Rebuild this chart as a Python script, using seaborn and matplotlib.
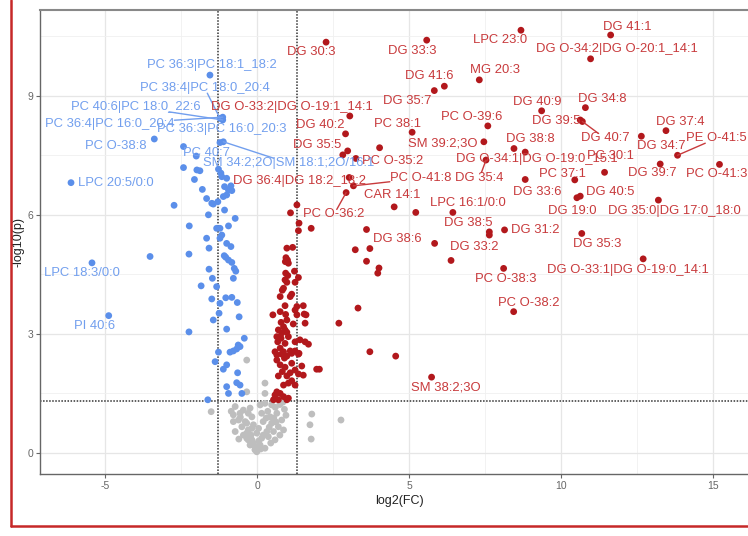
import numpy as np
import pandas as pd
import matplotlib
matplotlib.use("Agg")
import matplotlib.pyplot as plt
from matplotlib.lines import Line2D
from matplotlib.ticker import MultipleLocator
import seaborn as sns

# ---------------- data ----------------
# non-significant (grey)
gray_x = [-0.34, 0.26, 0.26, -0.34, -1.51, 1.80, 1.74, 1.78, 2.76,
          -0.72, -0.45, -0.23, 0.10, 0.26, 0.48,
          -0.78, -0.61, -0.39, -0.17, 0.15, 0.43, 0.65, 0.81,
          -0.78, -0.50, -0.12, 0.20, 0.48, 0.70,
          -0.72, -0.29, -0.01, 0.32, 0.54, 0.87,
          -0.34, -0.17, 0.15, 0.37, 0.59,
          -0.23, -0.07, 0.10, 0.26, -0.07, -0.01,
          -0.56, -0.29, -0.34, -0.17, -0.34, -0.29, -0.12,
          0.60, 0.75, 0.90, 0.35, 0.55, 0.95, 0.40, 0.75, 0.20, 0.05, 0.45,
          -0.45, -0.55, -0.85, 0.05, -0.60, 0.30, 0.62, -0.20, 0.12, 0.85]
gray_y = [2.34, 1.76, 1.50, 1.54, 1.04, 0.98, 0.71, 0.35, 0.83,
          1.17, 1.08, 1.13, 1.21, 1.25, 1.21,
          0.96, 0.83, 0.79, 0.91, 1.00, 0.91, 1.00, 0.83,
          0.79, 0.66, 0.71, 0.79, 0.75, 0.66,
          0.54, 0.58, 0.50, 0.54, 0.54, 0.58,
          0.37, 0.33, 0.37, 0.41, 0.33,
          0.20, 0.16, 0.20, 0.12, 0.08, 0.03,
          1.00, 1.00, 0.75, 0.62, 0.50, 0.33, 0.24,
          1.15, 1.22, 1.10, 1.05, 0.88, 0.95, 0.65, 0.45, 0.45, 0.30, 0.25,
          0.45, 0.90, 1.05, 0.62, 0.35, 0.88, 0.78, 0.45, 0.10, 1.28]

# down-regulated (blue), unlabeled
blue_x = [-2.42, -2.42, -1.98, -1.88, -2.06, -1.27, -1.19, -1.16, -1.00, -1.80,
          -1.07, -0.94, -0.83, -0.86, -1.00, -1.11, -1.66, -1.49, -1.44, -1.29,
          -1.07, -1.60, -0.72, -2.73, -2.23, -1.33, -1.22, -0.94, -1.66, -1.16,
          -1.22, -1.58, -1.00, -0.86, -2.24, -3.52, -1.08, -1.03, -0.94, -0.83,
          -0.75, -0.70, -1.58, -1.47, -0.78, -1.84, -1.33, -1.49, -1.03, -0.83,
          -1.22, -0.65, -1.25, -0.59, -1.44, -1.00, -2.24, -0.42, -0.56, -0.62,
          -0.67, -0.78, -0.89, -1.27, -1.38, -1.00, -1.11, -0.64, -0.67, -0.56,
          -1.00, -0.94, -0.50, -1.62]
blue_y = [7.72, 7.19, 7.13, 7.11, 6.89, 7.15, 7.05, 6.96, 6.92, 6.64,
          6.71, 6.62, 6.61, 6.73, 6.50, 6.46, 6.41, 6.29, 6.27, 6.33,
          6.12, 6.00, 5.91, 6.24, 5.72, 5.66, 5.66, 5.72, 5.41, 5.49,
          5.41, 5.16, 5.28, 5.20, 5.01, 4.95, 4.97, 4.93, 4.86, 4.80,
          4.65, 4.58, 4.63, 4.40, 4.40, 4.21, 4.19, 3.88, 3.91, 3.92,
          3.77, 3.79, 3.52, 3.43, 3.35, 3.12, 3.05, 2.89, 2.68, 2.72,
          2.62, 2.57, 2.54, 2.54, 2.30, 2.22, 2.11, 2.02, 1.77, 1.71,
          1.67, 1.50, 1.50, 1.34]

# up-regulated (red), unlabeled
red_x = [1.31, 1.10, 1.38, 1.36, 1.78, 0.98, 1.17,
         0.95, 1.00, 0.93, 1.03, 1.23, 0.94, 1.01, 1.36, 0.92, 0.98, 1.25,
         0.87, 0.83, 1.14, 1.09, 0.76, 0.92, 1.31, 1.52,
         0.52, 0.76, 0.94, 1.25, 1.31, 1.55, 0.98, 0.79, 1.19, 1.58,
         0.87, 0.70, 0.92, 0.81, 0.98, 0.65, 0.79, 1.03, 0.68,
         0.92, 1.25, 1.41, 1.58, 1.69, 0.76, 0.87, 1.09, 0.59, 1.25, 1.38,
         0.65, 0.81, 0.98, 1.14, 1.36, 0.65, 0.90,
         0.76, 0.92, 1.14, 1.47, 1.96, 2.05, 1.25, 0.83, 1.09, 0.70, 0.98, 1.36, 1.52,
         1.14, 1.03, 0.87, 1.25, 0.65, 0.76, 0.59, 0.87, 1.03, 0.70, 0.98, 0.54,
         3.60, 3.23, 3.71, 3.60, 4.01, 3.97, 3.32, 2.69, 3.71, 4.56, 5.22,
         2.82, 4.03, 1.61, 6.38]
red_y = [6.25, 6.05, 5.79, 5.60, 5.66, 5.16, 5.18,
         4.92, 4.86, 4.82, 4.78, 4.58, 4.53, 4.47, 4.42, 4.36, 4.30, 4.30,
         4.15, 4.10, 4.00, 3.94, 3.94, 3.71, 3.69, 3.71,
         3.48, 3.56, 3.49, 3.60, 3.48, 3.50, 3.35, 3.29, 3.25, 3.27,
         3.18, 3.10, 3.10, 3.02, 3.04, 2.93, 2.89, 2.93, 2.80,
         2.76, 2.80, 2.85, 2.80, 2.74, 2.64, 2.55, 2.57, 2.55, 2.57, 2.51,
         2.47, 2.49, 2.44, 2.51, 2.49, 2.34, 2.39,
         2.22, 2.16, 2.26, 2.19, 2.11, 2.11, 2.09, 2.05, 2.02, 1.94, 1.94, 1.99, 1.96,
         1.82, 1.76, 1.71, 1.71, 1.54, 1.50, 1.46, 1.42, 1.38, 1.34, 1.34, 1.34,
         5.63, 5.12, 5.15, 4.83, 4.66, 4.53, 3.65, 3.27, 2.55, 2.44, 6.06,
         7.51, 7.69, 3.48, 4.85]

# labelled lipids
lab_text = ["DG 41:1", "LPC 23:0", "DG O-34:2|DG O-20:1_14:1", "DG 30:3", "DG 33:3",
            "MG 20:3", "DG 41:6", "DG 35:7", "DG O-33:2|DG O-19:1_14:1", "DG 40:2",
            "PC 38:1", "PC O-39:6", "SM 39:2;3O", "DG 35:5", "PC O-35:2",
            "DG 36:4|DG 18:2_18:2", "PC O-41:8", "CAR 14:1", "PC O-36:2", "LPC 16:1/0:0",
            "DG 38:5", "DG 33:2", "DG 38:6", "DG 31:2", "PC O-38:3",
            "PC O-38:2", "SM 38:2;3O", "DG 40:9", "DG 34:8", "DG 39:5",
            "DG 40:7", "DG 37:4", "DG 34:7", "PE O-41:5", "DG 39:7",
            "PC O-41:3", "PC 30:1", "PC 37:1", "DG 33:6", "DG 40:5",
            "DG 19:0", "DG 35:0|DG 17:0_18:0", "DG 35:3", "DG O-33:1|DG O-19:0_14:1", "DG 38:8",
            "DG O-34:1|DG O-19:0_15:1", "DG 35:4",
            "PC 36:3|PC 18:1_18:2", "PC 38:4|PC 18:0_20:4", "PC 40:6|PC 18:0_22:6",
            "PC 36:4|PC 16:0_20:4", "PC 36:3|PC 16:0_20:3", "PC O-38:8", "PC 40:7",
            "SM 34:2;2O|SM 18:1;2O/16:1", "LPC 20:5/0:0", "LPC 18:3/0:0", "PI 40:6"]
lab_x = [11.63, 8.68, 10.97, 2.27, 5.58,
         7.31, 6.16, 5.83, 3.05, 2.91,
         5.10, 7.59, 7.46, 2.98, 3.25,
         3.03, 3.17, 4.51, 2.93, 6.44,
         7.64, 7.64, 5.84, 8.14, 8.11,
         8.44, 5.74, 9.36, 10.80, 10.63,
         10.70, 13.45, 12.64, 13.83, 13.26,
         15.21, 11.43, 10.45, 8.82, 10.63,
         10.52, 13.20, 10.68, 12.70, 8.45,
         8.82, 7.53,
         -1.55, -1.22, -1.13,
         -1.13, -1.22, -3.38, -2.00,
         -1.11, -6.12, -5.43, -4.88]
lab_y = [10.53, 10.65, 9.93, 10.35, 10.40,
         9.40, 9.24, 9.13, 8.49, 8.04,
         8.08, 8.24, 7.84, 7.61, 7.42,
         6.94, 6.73, 6.20, 6.56, 6.06,
         5.57, 5.49, 5.28, 5.62, 4.65,
         3.56, 1.91, 8.62, 8.70, 8.39,
         8.35, 8.12, 7.98, 7.50, 7.28,
         7.27, 7.07, 6.88, 6.89, 6.47,
         6.43, 6.37, 5.53, 4.89, 7.67,
         7.58, 7.38,
         9.52, 8.43, 8.39,
         8.46, 7.82, 7.91, 7.48,
         7.84, 6.81, 4.79, 3.46]
lab_group = ["up"] * 47 + ["down"] * 11

# label layout (text centre, data units) and which labels get a connector
lab_pos = [(12.16, 10.74), (7.99, 10.40), (11.84, 10.18), (1.78, 10.09), (5.10, 10.13),
           (7.83, 9.65), (5.65, 9.50), (4.95, 8.87), (1.14, 8.72), (2.07, 8.26),
           (4.61, 8.30), (7.07, 8.47), (6.10, 7.80), (1.99, 7.76), (4.47, 7.36),
           (1.38, 6.85), (5.38, 6.92), (4.46, 6.50), (2.53, 6.01), (6.94, 6.29),
           (6.96, 5.80), (7.14, 5.20), (4.60, 5.39), (9.14, 5.62), (8.17, 4.38),
           (8.95, 3.79), (6.22, 1.65), (9.20, 8.85), (11.35, 8.93), (9.84, 8.36),
           (11.44, 7.93), (13.93, 8.35), (13.31, 7.73), (15.12, 7.93), (13.01, 7.05),
           (15.12, 7.04), (11.62, 7.48), (10.06, 7.03), (9.21, 6.57), (11.63, 6.57),
           (10.38, 6.10), (13.71, 6.10), (11.18, 5.26), (12.20, 4.61), (9.00, 7.90),
           (9.21, 7.41), (7.32, 6.94),
           (-1.48, 9.77), (-1.72, 9.19), (-3.99, 8.72),
           (-4.85, 8.28), (-1.17, 8.15), (-4.64, 7.74), (-1.65, 7.56),
           (1.05, 7.30), (-4.64, 6.81), (-5.76, 4.53), (-5.36, 3.21)]
seg_labels = {"PC O-41:8", "PC O-36:2", "DG 40:7", "PE O-41:5", "DG 35:4",
              "PC 38:4|PC 18:0_20:4", "PC 40:6|PC 18:0_22:6", "PC 36:4|PC 16:0_20:4",
              "SM 34:2;2O|SM 18:1;2O/16:1"}

fc_cut = 1.3
p_cut = 1.301

# ---------------- frame ----------------
df = pd.concat([
    pd.DataFrame({"log2FC": gray_x, "nlog10p": gray_y, "group": "ns"}),
    pd.DataFrame({"log2FC": blue_x, "nlog10p": blue_y, "group": "down"}),
    pd.DataFrame({"log2FC": red_x, "nlog10p": red_y, "group": "up"}),
    pd.DataFrame({"log2FC": lab_x, "nlog10p": lab_y, "group": lab_group}),
], ignore_index=True)
order = {"ns": 0, "down": 1, "up": 2}
df = df.sort_values("group", key=lambda s: s.map(order), kind="stable")

sns.set_theme(style="white")
plt.rcParams["font.family"] = ["Liberation Sans", "DejaVu Sans"]
plt.rcParams["axes.unicode_minus"] = False

W, H = 748, 536
fig = plt.figure(figsize=(W / 100, H / 100), dpi=100)
ax = fig.add_axes([40 / W, 62 / H, 718.7 / W, 464 / H])

point_pal = {"ns": "#BEBEBE", "down": "#5B8FEA", "up": "#B2181C"}
text_pal = {"down": "#729FEE", "up": "#C83A3C"}

sns.scatterplot(data=df, x="log2FC", y="nlog10p", hue="group", palette=point_pal,
                s=24, linewidth=0, legend=False, ax=ax, zorder=3)

ax.set_xlim(-7.14, 16.5)
ax.set_ylim(-0.53, 11.16)
ax.xaxis.set_major_locator(MultipleLocator(5))
ax.xaxis.set_minor_locator(MultipleLocator(2.5))
ax.yaxis.set_major_locator(MultipleLocator(3))
ax.yaxis.set_minor_locator(MultipleLocator(1.5))
ax.set_axisbelow(True)
ax.grid(which="major", color="#E6E6E6", lw=0.9)
ax.grid(which="minor", color="#F0F0F0", lw=0.6)
ax.tick_params(which="major", length=3, width=0.8, color="#666666", pad=2,
               labelsize=7.5, labelcolor="#666666", bottom=True, left=True)
ax.tick_params(which="minor", length=0)

for side in ["left", "bottom"]:
    ax.spines[side].set_color("#666666")
    ax.spines[side].set_linewidth(1.0)
ax.spines["top"].set_color("#888888")
ax.spines["top"].set_linewidth(1.5)
ax.spines["right"].set_visible(False)

dot = (0, (1, 1))
ax.axvline(-fc_cut, color="#333333", lw=1.1, ls=dot, zorder=2)
ax.axvline(fc_cut, color="#333333", lw=1.1, ls=dot, zorder=2)
ax.axhline(p_cut, color="#333333", lw=1.1, ls=dot, zorder=2)

ax.set_xlabel("log2(FC)", fontsize=9, color="#222222", labelpad=3)
ax.set_ylabel("-log10(p)", fontsize=9, color="#222222", labelpad=2)

texts = []
for t, (tx, ty), g in zip(lab_text, lab_pos, lab_group):
    texts.append(ax.text(tx, ty, t, ha="center", va="center", fontsize=9.4,
                         color=text_pal[g], zorder=5))

fig.canvas.draw()
renderer = fig.canvas.get_renderer()
inv = ax.transData.inverted()
for txt, px, py, g in zip(texts, lab_x, lab_y, lab_group):
    if txt.get_text() not in seg_labels:
        continue
    bb = txt.get_window_extent(renderer)
    p = ax.transData.transform((px, py))
    c = np.array([(bb.x0 + bb.x1) / 2, (bb.y0 + bb.y1) / 2])
    d = c - p
    tvals = [0.0]
    for k, (lo, hi) in enumerate([(bb.x0, bb.x1), (bb.y0 + 1, bb.y1 - 1)]):
        if d[k] != 0:
            if p[k] < lo:
                tvals.append((lo - p[k]) / d[k])
            elif p[k] > hi:
                tvals.append((hi - p[k]) / d[k])
    t = min(max(tvals), 1.0)
    e = inv.transform(p + t * d)
    ax.plot([px, e[0]], [py, e[1]], color=text_pal[g], lw=1.0, zorder=4)

# red outer frame
fig.add_artist(Line2D([10.5 / W, 10.5 / W], [(H - 525.5) / H, 1.0],
                      color="#C62828", lw=1.8, transform=fig.transFigure))
fig.add_artist(Line2D([10.5 / W, 1.0], [(H - 525.5) / H, (H - 525.5) / H],
                      color="#C62828", lw=1.8, transform=fig.transFigure))

fig.savefig("out.png", dpi=100)
